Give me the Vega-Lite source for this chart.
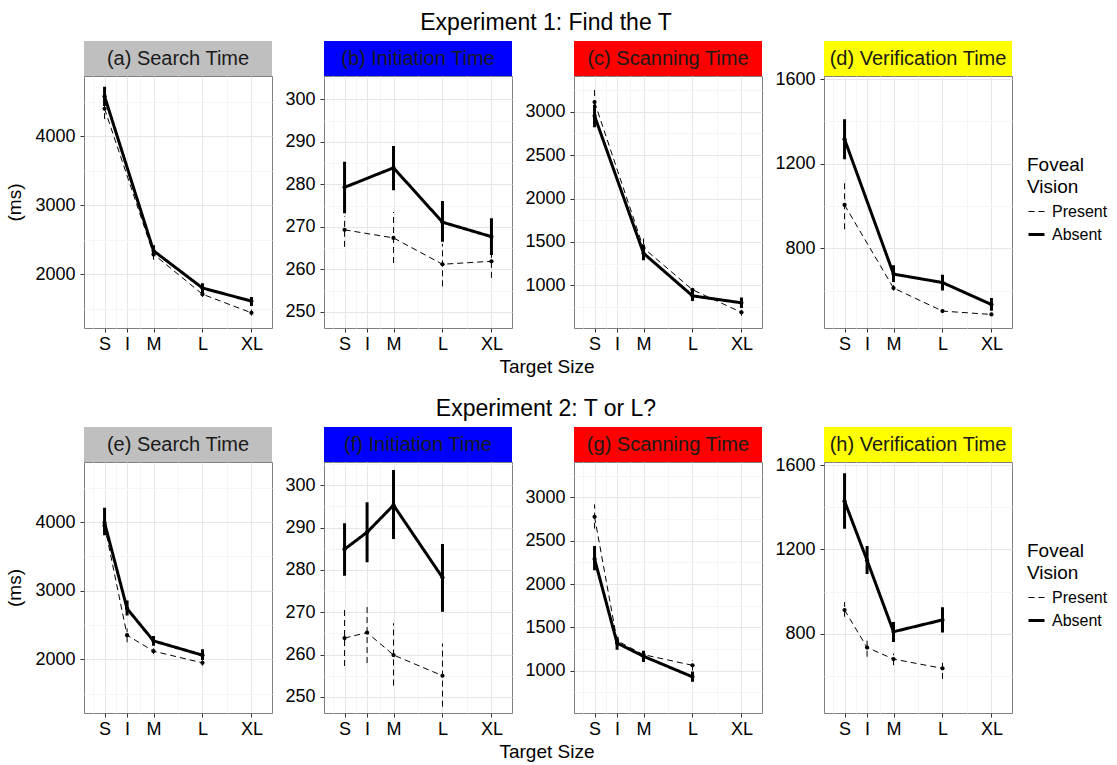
{
  "$schema": "https://vega.github.io/schema/vega-lite/v6.json",
  "background": "white",
  "padding": {"left": 5, "top": 12, "right": 5, "bottom": 5},
  "config": {
    "font": "Liberation Sans",
    "view": {"stroke": null},
    "axis": {"labelFont": "Liberation Sans", "labelFontSize": 18, "labelColor": "#000000", "titleFont": "Liberation Sans", "titleFontSize": 19, "titleFontWeight": "normal", "titleColor": "#000000", "tickColor": "#333333", "tickSize": 4, "domain": false, "labelOverlap": false, "labelFlush": false, "grid": true},
    "axisY": {"labelPadding": 5, "titlePadding": 10},
    "axisX": {"labelPadding": 3},
    "title": {"font": "Liberation Sans", "fontWeight": "normal", "color": "#000000"},
    "text": {"font": "Liberation Sans"}
  },
  "datasets": {
    "d": [
      {"panel":"a","size":1,"fv":"Absent","mean":4580,"lo":4440,"hi":4720},
      {"panel":"a","size":2,"fv":"Absent","mean":2340,"lo":2260,"hi":2420},
      {"panel":"a","size":3,"fv":"Absent","mean":1800,"lo":1730,"hi":1870},
      {"panel":"a","size":4,"fv":"Absent","mean":1610,"lo":1540,"hi":1670},
      {"panel":"a","size":1,"fv":"Present","mean":4400,"lo":4250,"hi":4470},
      {"panel":"a","size":2,"fv":"Present","mean":2290,"lo":2210,"hi":2370},
      {"panel":"a","size":3,"fv":"Present","mean":1710,"lo":1670,"hi":1760},
      {"panel":"a","size":4,"fv":"Present","mean":1440,"lo":1400,"hi":1490},
      {"panel":"b","size":1,"fv":"Absent","mean":279.3,"lo":273.2,"hi":285.3},
      {"panel":"b","size":2,"fv":"Absent","mean":283.9,"lo":278.6,"hi":289.0},
      {"panel":"b","size":3,"fv":"Absent","mean":271.1,"lo":266.5,"hi":276.1},
      {"panel":"b","size":4,"fv":"Absent","mean":267.7,"lo":263.4,"hi":272.0},
      {"panel":"b","size":1,"fv":"Present","mean":269.3,"lo":265.3,"hi":272.5},
      {"panel":"b","size":2,"fv":"Present","mean":267.4,"lo":261.5,"hi":273.5},
      {"panel":"b","size":3,"fv":"Present","mean":261.2,"lo":256.0,"hi":266.0},
      {"panel":"b","size":4,"fv":"Present","mean":261.9,"lo":258.0,"hi":265.8},
      {"panel":"c","size":1,"fv":"Absent","mean":2950,"lo":2820,"hi":3080},
      {"panel":"c","size":2,"fv":"Absent","mean":1370,"lo":1290,"hi":1470},
      {"panel":"c","size":3,"fv":"Absent","mean":880,"lo":820,"hi":940},
      {"panel":"c","size":4,"fv":"Absent","mean":800,"lo":740,"hi":860},
      {"panel":"c","size":1,"fv":"Present","mean":3110,"lo":2950,"hi":3280},
      {"panel":"c","size":2,"fv":"Present","mean":1430,"lo":1360,"hi":1540},
      {"panel":"c","size":3,"fv":"Present","mean":950,"lo":900,"hi":1000},
      {"panel":"c","size":4,"fv":"Present","mean":690,"lo":650,"hi":730},
      {"panel":"d","size":1,"fv":"Absent","mean":1316,"lo":1221,"hi":1411},
      {"panel":"d","size":2,"fv":"Absent","mean":678,"lo":640,"hi":720},
      {"panel":"d","size":3,"fv":"Absent","mean":638,"lo":600,"hi":675},
      {"panel":"d","size":4,"fv":"Absent","mean":534,"lo":505,"hi":565},
      {"panel":"d","size":1,"fv":"Present","mean":1005,"lo":890,"hi":1110},
      {"panel":"d","size":2,"fv":"Present","mean":612,"lo":600,"hi":625},
      {"panel":"d","size":3,"fv":"Present","mean":503,"lo":495,"hi":512},
      {"panel":"d","size":4,"fv":"Present","mean":487,"lo":480,"hi":494},
      {"panel":"e","size":1,"fv":"Absent","mean":3990,"lo":3810,"hi":4210},
      {"panel":"e","size":1.46,"fv":"Absent","mean":2740,"lo":2640,"hi":2860},
      {"panel":"e","size":2,"fv":"Absent","mean":2270,"lo":2200,"hi":2340},
      {"panel":"e","size":3,"fv":"Absent","mean":2062,"lo":1990,"hi":2150},
      {"panel":"e","size":1,"fv":"Present","mean":3950,"lo":3850,"hi":4050},
      {"panel":"e","size":1.46,"fv":"Present","mean":2353,"lo":2250,"hi":2450},
      {"panel":"e","size":2,"fv":"Present","mean":2120,"lo":2080,"hi":2160},
      {"panel":"e","size":3,"fv":"Present","mean":1950,"lo":1910,"hi":1990},
      {"panel":"f","size":1,"fv":"Absent","mean":284.9,"lo":278.6,"hi":291.0},
      {"panel":"f","size":1.46,"fv":"Absent","mean":288.9,"lo":281.8,"hi":296.0},
      {"panel":"f","size":2,"fv":"Absent","mean":295.3,"lo":287.3,"hi":303.6},
      {"panel":"f","size":3,"fv":"Absent","mean":278.2,"lo":270.1,"hi":286.1},
      {"panel":"f","size":1,"fv":"Present","mean":263.9,"lo":257.3,"hi":270.6},
      {"panel":"f","size":1.46,"fv":"Present","mean":265.2,"lo":258.0,"hi":272.0},
      {"panel":"f","size":2,"fv":"Present","mean":259.9,"lo":252.7,"hi":267.4},
      {"panel":"f","size":3,"fv":"Present","mean":255.0,"lo":247.7,"hi":262.6},
      {"panel":"g","size":1,"fv":"Absent","mean":2290,"lo":2160,"hi":2440},
      {"panel":"g","size":1.46,"fv":"Absent","mean":1318,"lo":1240,"hi":1390},
      {"panel":"g","size":2,"fv":"Absent","mean":1165,"lo":1100,"hi":1230},
      {"panel":"g","size":3,"fv":"Absent","mean":928,"lo":870,"hi":990},
      {"panel":"g","size":1,"fv":"Present","mean":2777,"lo":2640,"hi":2920},
      {"panel":"g","size":1.46,"fv":"Present","mean":1345,"lo":1290,"hi":1400},
      {"panel":"g","size":2,"fv":"Present","mean":1184,"lo":1130,"hi":1240},
      {"panel":"g","size":3,"fv":"Present","mean":1061,"lo":1000,"hi":1120},
      {"panel":"h","size":1,"fv":"Absent","mean":1429,"lo":1298,"hi":1561},
      {"panel":"h","size":1.46,"fv":"Absent","mean":1148,"lo":1083,"hi":1216},
      {"panel":"h","size":2,"fv":"Absent","mean":809,"lo":760,"hi":855},
      {"panel":"h","size":3,"fv":"Absent","mean":865,"lo":805,"hi":925},
      {"panel":"h","size":1,"fv":"Present","mean":912,"lo":880,"hi":950},
      {"panel":"h","size":1.46,"fv":"Present","mean":734,"lo":690,"hi":770},
      {"panel":"h","size":2,"fv":"Present","mean":679,"lo":650,"hi":705},
      {"panel":"h","size":3,"fv":"Present","mean":635,"lo":585,"hi":680}
    ]
  },
  "resolve": {"scale": {"strokeDash": "independent", "strokeWidth": "independent"}},
  "spacing": 21,
  "vconcat": [
    {
      "title": {"text": "Experiment 1: Find the T", "anchor": "middle", "fontSize": 23, "offset": 6, "dx": -11},
      "resolve": {"scale": {"strokeDash": "independent", "strokeWidth": "independent"}},
      "vconcat": [
        {
          "title": {"text": "Target Size", "orient": "bottom", "anchor": "middle", "fontSize": 19, "offset": 4, "dx": -10},
          "resolve": {"scale": {"strokeDash": "independent", "strokeWidth": "independent"}},
          "spacing": 11,
          "hconcat": [
            {
              "spacing": 0, "bounds": "flush",
              "resolve": {"scale": {"strokeDash": "independent", "strokeWidth": "independent"}},
              "vconcat": [
                {"width": 188, "height": 35, "view": {"fill": "#bfbfbf"}, "data": {"values": [{"t": "(a) Search Time"}]}, "mark": {"type": "text", "fontSize": 20, "color": "#1a1a1a", "baseline": "middle"}, "encoding": {"text": {"field": "t", "type": "nominal"}}},
                {
                  "width": 188, "height": 252, "view": {"stroke": "#7f7f7f"},
                  "data": {"name": "d"},
                  "transform": [{"filter": "datum.panel === 'a'"}],
                  "encoding": {
                    "x": {"field": "size", "type": "quantitative", "scale": {"domain": [0.58, 4.42], "nice": false, "zero": false}, "axis": {"values": [0.77,1,1.23,1.46,1.73,2,2.5,3,3.5,4], "labelExpr": "datum.value === 1 ? 'S' : datum.value === 1.46 ? 'I' : datum.value === 2 ? 'M' : datum.value === 3 ? 'L' : datum.value === 4 ? 'XL' : ''", "title": null, "gridColor": {"condition": {"test": "indexof([1,1.46,2,3,4], datum.value) >= 0", "value": "#e6e6e6"}, "value": "#f5f5f5"}, "tickOpacity": {"condition": {"test": "indexof([1,1.46,2,3,4], datum.value) >= 0", "value": 1}, "value": 0}}},
                    "y": {"field": "mean", "type": "quantitative", "scale": {"domain": [1220, 4875], "nice": false, "zero": false}, "axis": {"values": [1500,2000,2500,3000,3500,4000,4500], "format": "d", "labelExpr": "datum.value % 1000 === 0 ? datum.label : ''", "title": "(ms)", "gridColor": {"condition": {"test": "datum.value % 1000 === 0", "value": "#e6e6e6"}, "value": "#f5f5f5"}, "tickOpacity": {"condition": {"test": "datum.value % 1000 === 0", "value": 1}, "value": 0}}},
                    "strokeDash": {"field": "fv", "type": "nominal", "scale": {"domain": ["Present", "Absent"], "range": [[6, 4], [1, 0]]}, "legend": null},
                    "strokeWidth": {"field": "fv", "type": "nominal", "scale": {"domain": ["Present", "Absent"], "range": [1, 3]}, "legend": null}
                  },
                  "layer": [
                    {"mark": {"type": "rule", "color": "#000000"}, "encoding": {
                      "y": {"field": "lo", "type": "quantitative", "scale": {"domain": [1220, 4875], "nice": false, "zero": false}, "axis": {"values": [1500,2000,2500,3000,3500,4000,4500], "format": "d", "labelExpr": "datum.value % 1000 === 0 ? datum.label : ''", "title": "(ms)", "gridColor": {"condition": {"test": "datum.value % 1000 === 0", "value": "#e6e6e6"}, "value": "#f5f5f5"}, "tickOpacity": {"condition": {"test": "datum.value % 1000 === 0", "value": 1}, "value": 0}}},
                      "y2": {"field": "hi"}}},
                    {"mark": {"type": "line", "color": "#000000"}, "encoding": {}},
                    {"mark": {"type": "point", "filled": true, "color": "#000000", "size": 18, "opacity": 1}, "encoding": {}}
                  ]
                }
              ]
            },
            {
              "spacing": 0, "bounds": "flush",
              "resolve": {"scale": {"strokeDash": "independent", "strokeWidth": "independent"}},
              "vconcat": [
                {"width": 188, "height": 35, "view": {"fill": "#0000ff"}, "data": {"values": [{"t": "(b) Initiation Time"}]}, "mark": {"type": "text", "fontSize": 20, "color": "#1a1a1a", "baseline": "middle"}, "encoding": {"text": {"field": "t", "type": "nominal"}}},
                {
                  "width": 188, "height": 252, "view": {"stroke": "#7f7f7f"},
                  "data": {"name": "d"},
                  "transform": [{"filter": "datum.panel === 'b'"}],
                  "encoding": {
                    "x": {"field": "size", "type": "quantitative", "scale": {"domain": [0.58, 4.42], "nice": false, "zero": false}, "axis": {"values": [0.77,1,1.23,1.46,1.73,2,2.5,3,3.5,4], "labelExpr": "datum.value === 1 ? 'S' : datum.value === 1.46 ? 'I' : datum.value === 2 ? 'M' : datum.value === 3 ? 'L' : datum.value === 4 ? 'XL' : ''", "title": null, "gridColor": {"condition": {"test": "indexof([1,1.46,2,3,4], datum.value) >= 0", "value": "#e6e6e6"}, "value": "#f5f5f5"}, "tickOpacity": {"condition": {"test": "indexof([1,1.46,2,3,4], datum.value) >= 0", "value": 1}, "value": 0}}},
                    "y": {"field": "mean", "type": "quantitative", "scale": {"domain": [246.2, 305.5], "nice": false, "zero": false}, "axis": {"values": [250,255,260,265,270,275,280,285,290,295,300,305], "format": "d", "labelExpr": "datum.value % 10 === 0 ? datum.label : ''", "title": null, "gridColor": {"condition": {"test": "datum.value % 10 === 0", "value": "#e6e6e6"}, "value": "#f5f5f5"}, "tickOpacity": {"condition": {"test": "datum.value % 10 === 0", "value": 1}, "value": 0}}},
                    "strokeDash": {"field": "fv", "type": "nominal", "scale": {"domain": ["Present", "Absent"], "range": [[6, 4], [1, 0]]}, "legend": null},
                    "strokeWidth": {"field": "fv", "type": "nominal", "scale": {"domain": ["Present", "Absent"], "range": [1, 3]}, "legend": null}
                  },
                  "layer": [
                    {"mark": {"type": "rule", "color": "#000000"}, "encoding": {
                      "y": {"field": "lo", "type": "quantitative", "scale": {"domain": [246.2, 305.5], "nice": false, "zero": false}, "axis": {"values": [250,255,260,265,270,275,280,285,290,295,300,305], "format": "d", "labelExpr": "datum.value % 10 === 0 ? datum.label : ''", "title": null, "gridColor": {"condition": {"test": "datum.value % 10 === 0", "value": "#e6e6e6"}, "value": "#f5f5f5"}, "tickOpacity": {"condition": {"test": "datum.value % 10 === 0", "value": 1}, "value": 0}}},
                      "y2": {"field": "hi"}}},
                    {"mark": {"type": "line", "color": "#000000"}, "encoding": {}},
                    {"mark": {"type": "point", "filled": true, "color": "#000000", "size": 18, "opacity": 1}, "encoding": {}}
                  ]
                }
              ]
            },
            {
              "spacing": 0, "bounds": "flush",
              "resolve": {"scale": {"strokeDash": "independent", "strokeWidth": "independent"}},
              "vconcat": [
                {"width": 188, "height": 35, "view": {"fill": "#ff0000"}, "data": {"values": [{"t": "(c) Scanning Time"}]}, "mark": {"type": "text", "fontSize": 20, "color": "#1a1a1a", "baseline": "middle"}, "encoding": {"text": {"field": "t", "type": "nominal"}}},
                {
                  "width": 188, "height": 252, "view": {"stroke": "#7f7f7f"},
                  "data": {"name": "d"},
                  "transform": [{"filter": "datum.panel === 'c'"}],
                  "encoding": {
                    "x": {"field": "size", "type": "quantitative", "scale": {"domain": [0.58, 4.42], "nice": false, "zero": false}, "axis": {"values": [0.77,1,1.23,1.46,1.73,2,2.5,3,3.5,4], "labelExpr": "datum.value === 1 ? 'S' : datum.value === 1.46 ? 'I' : datum.value === 2 ? 'M' : datum.value === 3 ? 'L' : datum.value === 4 ? 'XL' : ''", "title": null, "gridColor": {"condition": {"test": "indexof([1,1.46,2,3,4], datum.value) >= 0", "value": "#e6e6e6"}, "value": "#f5f5f5"}, "tickOpacity": {"condition": {"test": "indexof([1,1.46,2,3,4], datum.value) >= 0", "value": 1}, "value": 0}}},
                    "y": {"field": "mean", "type": "quantitative", "scale": {"domain": [510, 3410], "nice": false, "zero": false}, "axis": {"values": [750,1000,1250,1500,1750,2000,2250,2500,2750,3000,3250], "format": "d", "labelExpr": "datum.value % 500 === 0 ? datum.label : ''", "title": null, "gridColor": {"condition": {"test": "datum.value % 500 === 0", "value": "#e6e6e6"}, "value": "#f5f5f5"}, "tickOpacity": {"condition": {"test": "datum.value % 500 === 0", "value": 1}, "value": 0}}},
                    "strokeDash": {"field": "fv", "type": "nominal", "scale": {"domain": ["Present", "Absent"], "range": [[6, 4], [1, 0]]}, "legend": null},
                    "strokeWidth": {"field": "fv", "type": "nominal", "scale": {"domain": ["Present", "Absent"], "range": [1, 3]}, "legend": null}
                  },
                  "layer": [
                    {"mark": {"type": "rule", "color": "#000000"}, "encoding": {
                      "y": {"field": "lo", "type": "quantitative", "scale": {"domain": [510, 3410], "nice": false, "zero": false}, "axis": {"values": [750,1000,1250,1500,1750,2000,2250,2500,2750,3000,3250], "format": "d", "labelExpr": "datum.value % 500 === 0 ? datum.label : ''", "title": null, "gridColor": {"condition": {"test": "datum.value % 500 === 0", "value": "#e6e6e6"}, "value": "#f5f5f5"}, "tickOpacity": {"condition": {"test": "datum.value % 500 === 0", "value": 1}, "value": 0}}},
                      "y2": {"field": "hi"}}},
                    {"mark": {"type": "line", "color": "#000000"}, "encoding": {}},
                    {"mark": {"type": "point", "filled": true, "color": "#000000", "size": 18, "opacity": 1}, "encoding": {}}
                  ]
                }
              ]
            },
            {
              "spacing": 0, "bounds": "flush",
              "resolve": {"scale": {"strokeDash": "independent", "strokeWidth": "independent"}},
              "vconcat": [
                {"width": 188, "height": 35, "view": {"fill": "#ffff00"}, "data": {"values": [{"t": "(d) Verification Time"}]}, "mark": {"type": "text", "fontSize": 20, "color": "#1a1a1a", "baseline": "middle"}, "encoding": {"text": {"field": "t", "type": "nominal"}}},
                {
                  "width": 188, "height": 252, "view": {"stroke": "#7f7f7f"},
                  "data": {"name": "d"},
                  "transform": [{"filter": "datum.panel === 'd'"}],
                  "encoding": {
                    "x": {"field": "size", "type": "quantitative", "scale": {"domain": [0.58, 4.42], "nice": false, "zero": false}, "axis": {"values": [0.77,1,1.23,1.46,1.73,2,2.5,3,3.5,4], "labelExpr": "datum.value === 1 ? 'S' : datum.value === 1.46 ? 'I' : datum.value === 2 ? 'M' : datum.value === 3 ? 'L' : datum.value === 4 ? 'XL' : ''", "title": null, "gridColor": {"condition": {"test": "indexof([1,1.46,2,3,4], datum.value) >= 0", "value": "#e6e6e6"}, "value": "#f5f5f5"}, "tickOpacity": {"condition": {"test": "indexof([1,1.46,2,3,4], datum.value) >= 0", "value": 1}, "value": 0}}},
                    "y": {"field": "mean", "type": "quantitative", "scale": {"domain": [423, 1615], "nice": false, "zero": false}, "axis": {"values": [600,800,1000,1200,1400,1600], "format": "d", "labelExpr": "datum.value % 400 === 0 ? datum.label : ''", "title": null, "gridColor": {"condition": {"test": "datum.value % 400 === 0", "value": "#e6e6e6"}, "value": "#f5f5f5"}, "tickOpacity": {"condition": {"test": "datum.value % 400 === 0", "value": 1}, "value": 0}}}
                  },
                  "layer": [
                    {"mark": {"type": "rule", "color": "#000000"}, "encoding": {
                      "y": {"field": "lo", "type": "quantitative", "scale": {"domain": [423, 1615], "nice": false, "zero": false}, "axis": {"values": [600,800,1000,1200,1400,1600], "format": "d", "labelExpr": "datum.value % 400 === 0 ? datum.label : ''", "title": null, "gridColor": {"condition": {"test": "datum.value % 400 === 0", "value": "#e6e6e6"}, "value": "#f5f5f5"}, "tickOpacity": {"condition": {"test": "datum.value % 400 === 0", "value": 1}, "value": 0}}},
                      "y2": {"field": "hi"},
                      "strokeDash": {"field": "fv", "type": "nominal", "title": ["Foveal", "Vision"], "scale": {"domain": ["Present", "Absent"], "range": [[6, 4], [1, 0]]}, "legend": {"title": ["Foveal", "Vision"], "orient": "none", "legendX": 203, "legendY": 80, "padding": 0, "titleFont": "Liberation Sans", "titleFontSize": 19, "titleFontWeight": "normal", "titleColor": "#000000", "titleLineHeight": 22, "titlePadding": 6, "labelFont": "Liberation Sans", "labelFontSize": 16, "labelColor": "#000000", "labelOffset": 6, "symbolType": "stroke", "symbolSize": 256, "symbolStrokeColor": "#000000", "rowPadding": 5}},
                      "strokeWidth": {"field": "fv", "type": "nominal", "title": ["Foveal", "Vision"], "scale": {"domain": ["Present", "Absent"], "range": [1, 3]}, "legend": {"title": ["Foveal", "Vision"], "orient": "none", "legendX": 203, "legendY": 80, "padding": 0, "titleFont": "Liberation Sans", "titleFontSize": 19, "titleFontWeight": "normal", "titleColor": "#000000", "titleLineHeight": 22, "titlePadding": 6, "labelFont": "Liberation Sans", "labelFontSize": 16, "labelColor": "#000000", "labelOffset": 6, "symbolType": "stroke", "symbolSize": 256, "symbolStrokeColor": "#000000", "rowPadding": 5}}}},
                    {"mark": {"type": "line", "color": "#000000"}, "encoding": {
                      "strokeDash": {"field": "fv", "type": "nominal", "title": ["Foveal", "Vision"], "scale": {"domain": ["Present", "Absent"], "range": [[6, 4], [1, 0]]}, "legend": {"title": ["Foveal", "Vision"], "orient": "none", "legendX": 203, "legendY": 80, "padding": 0, "titleFont": "Liberation Sans", "titleFontSize": 19, "titleFontWeight": "normal", "titleColor": "#000000", "titleLineHeight": 22, "titlePadding": 6, "labelFont": "Liberation Sans", "labelFontSize": 16, "labelColor": "#000000", "labelOffset": 6, "symbolType": "stroke", "symbolSize": 256, "symbolStrokeColor": "#000000", "rowPadding": 5}},
                      "strokeWidth": {"field": "fv", "type": "nominal", "title": ["Foveal", "Vision"], "scale": {"domain": ["Present", "Absent"], "range": [1, 3]}, "legend": {"title": ["Foveal", "Vision"], "orient": "none", "legendX": 203, "legendY": 80, "padding": 0, "titleFont": "Liberation Sans", "titleFontSize": 19, "titleFontWeight": "normal", "titleColor": "#000000", "titleLineHeight": 22, "titlePadding": 6, "labelFont": "Liberation Sans", "labelFontSize": 16, "labelColor": "#000000", "labelOffset": 6, "symbolType": "stroke", "symbolSize": 256, "symbolStrokeColor": "#000000", "rowPadding": 5}}}},
                    {"mark": {"type": "point", "filled": true, "color": "#000000", "size": 18, "opacity": 1}, "encoding": {"detail": {"field": "fv", "type": "nominal"}}}
                  ]
                }
              ]
            }
          ]
        }
      ]
    },
    {
      "title": {"text": "Experiment 2: T or L?", "anchor": "middle", "fontSize": 23, "offset": 6, "dx": -11},
      "resolve": {"scale": {"strokeDash": "independent", "strokeWidth": "independent"}},
      "vconcat": [
        {
          "title": {"text": "Target Size", "orient": "bottom", "anchor": "middle", "fontSize": 19, "offset": 4, "dx": -10},
          "resolve": {"scale": {"strokeDash": "independent", "strokeWidth": "independent"}},
          "spacing": 11,
          "hconcat": [
            {
              "spacing": 0, "bounds": "flush",
              "resolve": {"scale": {"strokeDash": "independent", "strokeWidth": "independent"}},
              "vconcat": [
                {"width": 188, "height": 35, "view": {"fill": "#bfbfbf"}, "data": {"values": [{"t": "(e) Search Time"}]}, "mark": {"type": "text", "fontSize": 20, "color": "#1a1a1a", "baseline": "middle"}, "encoding": {"text": {"field": "t", "type": "nominal"}}},
                {
                  "width": 188, "height": 251, "view": {"stroke": "#7f7f7f"},
                  "data": {"name": "d"},
                  "transform": [{"filter": "datum.panel === 'e'"}],
                  "encoding": {
                    "x": {"field": "size", "type": "quantitative", "scale": {"domain": [0.58, 4.42], "nice": false, "zero": false}, "axis": {"values": [0.77,1,1.23,1.46,1.73,2,2.5,3,3.5,4], "labelExpr": "datum.value === 1 ? 'S' : datum.value === 1.46 ? 'I' : datum.value === 2 ? 'M' : datum.value === 3 ? 'L' : datum.value === 4 ? 'XL' : ''", "title": null, "gridColor": {"condition": {"test": "indexof([1,1.46,2,3,4], datum.value) >= 0", "value": "#e6e6e6"}, "value": "#f5f5f5"}, "tickOpacity": {"condition": {"test": "indexof([1,1.46,2,3,4], datum.value) >= 0", "value": 1}, "value": 0}}},
                    "y": {"field": "mean", "type": "quantitative", "scale": {"domain": [1220, 4875], "nice": false, "zero": false}, "axis": {"values": [1500,2000,2500,3000,3500,4000,4500], "format": "d", "labelExpr": "datum.value % 1000 === 0 ? datum.label : ''", "title": "(ms)", "gridColor": {"condition": {"test": "datum.value % 1000 === 0", "value": "#e6e6e6"}, "value": "#f5f5f5"}, "tickOpacity": {"condition": {"test": "datum.value % 1000 === 0", "value": 1}, "value": 0}}},
                    "strokeDash": {"field": "fv", "type": "nominal", "scale": {"domain": ["Present", "Absent"], "range": [[6, 4], [1, 0]]}, "legend": null},
                    "strokeWidth": {"field": "fv", "type": "nominal", "scale": {"domain": ["Present", "Absent"], "range": [1, 3]}, "legend": null}
                  },
                  "layer": [
                    {"mark": {"type": "rule", "color": "#000000"}, "encoding": {
                      "y": {"field": "lo", "type": "quantitative", "scale": {"domain": [1220, 4875], "nice": false, "zero": false}, "axis": {"values": [1500,2000,2500,3000,3500,4000,4500], "format": "d", "labelExpr": "datum.value % 1000 === 0 ? datum.label : ''", "title": "(ms)", "gridColor": {"condition": {"test": "datum.value % 1000 === 0", "value": "#e6e6e6"}, "value": "#f5f5f5"}, "tickOpacity": {"condition": {"test": "datum.value % 1000 === 0", "value": 1}, "value": 0}}},
                      "y2": {"field": "hi"}}},
                    {"mark": {"type": "line", "color": "#000000"}, "encoding": {}},
                    {"mark": {"type": "point", "filled": true, "color": "#000000", "size": 18, "opacity": 1}, "encoding": {}}
                  ]
                }
              ]
            },
            {
              "spacing": 0, "bounds": "flush",
              "resolve": {"scale": {"strokeDash": "independent", "strokeWidth": "independent"}},
              "vconcat": [
                {"width": 188, "height": 35, "view": {"fill": "#0000ff"}, "data": {"values": [{"t": "(f) Initiation Time"}]}, "mark": {"type": "text", "fontSize": 20, "color": "#1a1a1a", "baseline": "middle"}, "encoding": {"text": {"field": "t", "type": "nominal"}}},
                {
                  "width": 188, "height": 251, "view": {"stroke": "#7f7f7f"},
                  "data": {"name": "d"},
                  "transform": [{"filter": "datum.panel === 'f'"}],
                  "encoding": {
                    "x": {"field": "size", "type": "quantitative", "scale": {"domain": [0.58, 4.42], "nice": false, "zero": false}, "axis": {"values": [0.77,1,1.23,1.46,1.73,2,2.5,3,3.5,4], "labelExpr": "datum.value === 1 ? 'S' : datum.value === 1.46 ? 'I' : datum.value === 2 ? 'M' : datum.value === 3 ? 'L' : datum.value === 4 ? 'XL' : ''", "title": null, "gridColor": {"condition": {"test": "indexof([1,1.46,2,3,4], datum.value) >= 0", "value": "#e6e6e6"}, "value": "#f5f5f5"}, "tickOpacity": {"condition": {"test": "indexof([1,1.46,2,3,4], datum.value) >= 0", "value": 1}, "value": 0}}},
                    "y": {"field": "mean", "type": "quantitative", "scale": {"domain": [246.2, 305.5], "nice": false, "zero": false}, "axis": {"values": [250,255,260,265,270,275,280,285,290,295,300,305], "format": "d", "labelExpr": "datum.value % 10 === 0 ? datum.label : ''", "title": null, "gridColor": {"condition": {"test": "datum.value % 10 === 0", "value": "#e6e6e6"}, "value": "#f5f5f5"}, "tickOpacity": {"condition": {"test": "datum.value % 10 === 0", "value": 1}, "value": 0}}},
                    "strokeDash": {"field": "fv", "type": "nominal", "scale": {"domain": ["Present", "Absent"], "range": [[6, 4], [1, 0]]}, "legend": null},
                    "strokeWidth": {"field": "fv", "type": "nominal", "scale": {"domain": ["Present", "Absent"], "range": [1, 3]}, "legend": null}
                  },
                  "layer": [
                    {"mark": {"type": "rule", "color": "#000000"}, "encoding": {
                      "y": {"field": "lo", "type": "quantitative", "scale": {"domain": [246.2, 305.5], "nice": false, "zero": false}, "axis": {"values": [250,255,260,265,270,275,280,285,290,295,300,305], "format": "d", "labelExpr": "datum.value % 10 === 0 ? datum.label : ''", "title": null, "gridColor": {"condition": {"test": "datum.value % 10 === 0", "value": "#e6e6e6"}, "value": "#f5f5f5"}, "tickOpacity": {"condition": {"test": "datum.value % 10 === 0", "value": 1}, "value": 0}}},
                      "y2": {"field": "hi"}}},
                    {"mark": {"type": "line", "color": "#000000"}, "encoding": {}},
                    {"mark": {"type": "point", "filled": true, "color": "#000000", "size": 18, "opacity": 1}, "encoding": {}}
                  ]
                }
              ]
            },
            {
              "spacing": 0, "bounds": "flush",
              "resolve": {"scale": {"strokeDash": "independent", "strokeWidth": "independent"}},
              "vconcat": [
                {"width": 188, "height": 35, "view": {"fill": "#ff0000"}, "data": {"values": [{"t": "(g) Scanning Time"}]}, "mark": {"type": "text", "fontSize": 20, "color": "#1a1a1a", "baseline": "middle"}, "encoding": {"text": {"field": "t", "type": "nominal"}}},
                {
                  "width": 188, "height": 251, "view": {"stroke": "#7f7f7f"},
                  "data": {"name": "d"},
                  "transform": [{"filter": "datum.panel === 'g'"}],
                  "encoding": {
                    "x": {"field": "size", "type": "quantitative", "scale": {"domain": [0.58, 4.42], "nice": false, "zero": false}, "axis": {"values": [0.77,1,1.23,1.46,1.73,2,2.5,3,3.5,4], "labelExpr": "datum.value === 1 ? 'S' : datum.value === 1.46 ? 'I' : datum.value === 2 ? 'M' : datum.value === 3 ? 'L' : datum.value === 4 ? 'XL' : ''", "title": null, "gridColor": {"condition": {"test": "indexof([1,1.46,2,3,4], datum.value) >= 0", "value": "#e6e6e6"}, "value": "#f5f5f5"}, "tickOpacity": {"condition": {"test": "indexof([1,1.46,2,3,4], datum.value) >= 0", "value": 1}, "value": 0}}},
                    "y": {"field": "mean", "type": "quantitative", "scale": {"domain": [510, 3410], "nice": false, "zero": false}, "axis": {"values": [750,1000,1250,1500,1750,2000,2250,2500,2750,3000,3250], "format": "d", "labelExpr": "datum.value % 500 === 0 ? datum.label : ''", "title": null, "gridColor": {"condition": {"test": "datum.value % 500 === 0", "value": "#e6e6e6"}, "value": "#f5f5f5"}, "tickOpacity": {"condition": {"test": "datum.value % 500 === 0", "value": 1}, "value": 0}}},
                    "strokeDash": {"field": "fv", "type": "nominal", "scale": {"domain": ["Present", "Absent"], "range": [[6, 4], [1, 0]]}, "legend": null},
                    "strokeWidth": {"field": "fv", "type": "nominal", "scale": {"domain": ["Present", "Absent"], "range": [1, 3]}, "legend": null}
                  },
                  "layer": [
                    {"mark": {"type": "rule", "color": "#000000"}, "encoding": {
                      "y": {"field": "lo", "type": "quantitative", "scale": {"domain": [510, 3410], "nice": false, "zero": false}, "axis": {"values": [750,1000,1250,1500,1750,2000,2250,2500,2750,3000,3250], "format": "d", "labelExpr": "datum.value % 500 === 0 ? datum.label : ''", "title": null, "gridColor": {"condition": {"test": "datum.value % 500 === 0", "value": "#e6e6e6"}, "value": "#f5f5f5"}, "tickOpacity": {"condition": {"test": "datum.value % 500 === 0", "value": 1}, "value": 0}}},
                      "y2": {"field": "hi"}}},
                    {"mark": {"type": "line", "color": "#000000"}, "encoding": {}},
                    {"mark": {"type": "point", "filled": true, "color": "#000000", "size": 18, "opacity": 1}, "encoding": {}}
                  ]
                }
              ]
            },
            {
              "spacing": 0, "bounds": "flush",
              "resolve": {"scale": {"strokeDash": "independent", "strokeWidth": "independent"}},
              "vconcat": [
                {"width": 188, "height": 35, "view": {"fill": "#ffff00"}, "data": {"values": [{"t": "(h) Verification Time"}]}, "mark": {"type": "text", "fontSize": 20, "color": "#1a1a1a", "baseline": "middle"}, "encoding": {"text": {"field": "t", "type": "nominal"}}},
                {
                  "width": 188, "height": 251, "view": {"stroke": "#7f7f7f"},
                  "data": {"name": "d"},
                  "transform": [{"filter": "datum.panel === 'h'"}],
                  "encoding": {
                    "x": {"field": "size", "type": "quantitative", "scale": {"domain": [0.58, 4.42], "nice": false, "zero": false}, "axis": {"values": [0.77,1,1.23,1.46,1.73,2,2.5,3,3.5,4], "labelExpr": "datum.value === 1 ? 'S' : datum.value === 1.46 ? 'I' : datum.value === 2 ? 'M' : datum.value === 3 ? 'L' : datum.value === 4 ? 'XL' : ''", "title": null, "gridColor": {"condition": {"test": "indexof([1,1.46,2,3,4], datum.value) >= 0", "value": "#e6e6e6"}, "value": "#f5f5f5"}, "tickOpacity": {"condition": {"test": "indexof([1,1.46,2,3,4], datum.value) >= 0", "value": 1}, "value": 0}}},
                    "y": {"field": "mean", "type": "quantitative", "scale": {"domain": [423, 1615], "nice": false, "zero": false}, "axis": {"values": [600,800,1000,1200,1400,1600], "format": "d", "labelExpr": "datum.value % 400 === 0 ? datum.label : ''", "title": null, "gridColor": {"condition": {"test": "datum.value % 400 === 0", "value": "#e6e6e6"}, "value": "#f5f5f5"}, "tickOpacity": {"condition": {"test": "datum.value % 400 === 0", "value": 1}, "value": 0}}}
                  },
                  "layer": [
                    {"mark": {"type": "rule", "color": "#000000"}, "encoding": {
                      "y": {"field": "lo", "type": "quantitative", "scale": {"domain": [423, 1615], "nice": false, "zero": false}, "axis": {"values": [600,800,1000,1200,1400,1600], "format": "d", "labelExpr": "datum.value % 400 === 0 ? datum.label : ''", "title": null, "gridColor": {"condition": {"test": "datum.value % 400 === 0", "value": "#e6e6e6"}, "value": "#f5f5f5"}, "tickOpacity": {"condition": {"test": "datum.value % 400 === 0", "value": 1}, "value": 0}}},
                      "y2": {"field": "hi"},
                      "strokeDash": {"field": "fv", "type": "nominal", "title": ["Foveal", "Vision"], "scale": {"domain": ["Present", "Absent"], "range": [[6, 4], [1, 0]]}, "legend": {"title": ["Foveal", "Vision"], "orient": "none", "legendX": 203, "legendY": 80, "padding": 0, "titleFont": "Liberation Sans", "titleFontSize": 19, "titleFontWeight": "normal", "titleColor": "#000000", "titleLineHeight": 22, "titlePadding": 6, "labelFont": "Liberation Sans", "labelFontSize": 16, "labelColor": "#000000", "labelOffset": 6, "symbolType": "stroke", "symbolSize": 256, "symbolStrokeColor": "#000000", "rowPadding": 5}},
                      "strokeWidth": {"field": "fv", "type": "nominal", "title": ["Foveal", "Vision"], "scale": {"domain": ["Present", "Absent"], "range": [1, 3]}, "legend": {"title": ["Foveal", "Vision"], "orient": "none", "legendX": 203, "legendY": 80, "padding": 0, "titleFont": "Liberation Sans", "titleFontSize": 19, "titleFontWeight": "normal", "titleColor": "#000000", "titleLineHeight": 22, "titlePadding": 6, "labelFont": "Liberation Sans", "labelFontSize": 16, "labelColor": "#000000", "labelOffset": 6, "symbolType": "stroke", "symbolSize": 256, "symbolStrokeColor": "#000000", "rowPadding": 5}}}},
                    {"mark": {"type": "line", "color": "#000000"}, "encoding": {
                      "strokeDash": {"field": "fv", "type": "nominal", "title": ["Foveal", "Vision"], "scale": {"domain": ["Present", "Absent"], "range": [[6, 4], [1, 0]]}, "legend": {"title": ["Foveal", "Vision"], "orient": "none", "legendX": 203, "legendY": 80, "padding": 0, "titleFont": "Liberation Sans", "titleFontSize": 19, "titleFontWeight": "normal", "titleColor": "#000000", "titleLineHeight": 22, "titlePadding": 6, "labelFont": "Liberation Sans", "labelFontSize": 16, "labelColor": "#000000", "labelOffset": 6, "symbolType": "stroke", "symbolSize": 256, "symbolStrokeColor": "#000000", "rowPadding": 5}},
                      "strokeWidth": {"field": "fv", "type": "nominal", "title": ["Foveal", "Vision"], "scale": {"domain": ["Present", "Absent"], "range": [1, 3]}, "legend": {"title": ["Foveal", "Vision"], "orient": "none", "legendX": 203, "legendY": 80, "padding": 0, "titleFont": "Liberation Sans", "titleFontSize": 19, "titleFontWeight": "normal", "titleColor": "#000000", "titleLineHeight": 22, "titlePadding": 6, "labelFont": "Liberation Sans", "labelFontSize": 16, "labelColor": "#000000", "labelOffset": 6, "symbolType": "stroke", "symbolSize": 256, "symbolStrokeColor": "#000000", "rowPadding": 5}}}},
                    {"mark": {"type": "point", "filled": true, "color": "#000000", "size": 18, "opacity": 1}, "encoding": {"detail": {"field": "fv", "type": "nominal"}}}
                  ]
                }
              ]
            }
          ]
        }
      ]
    }
  ]
}
